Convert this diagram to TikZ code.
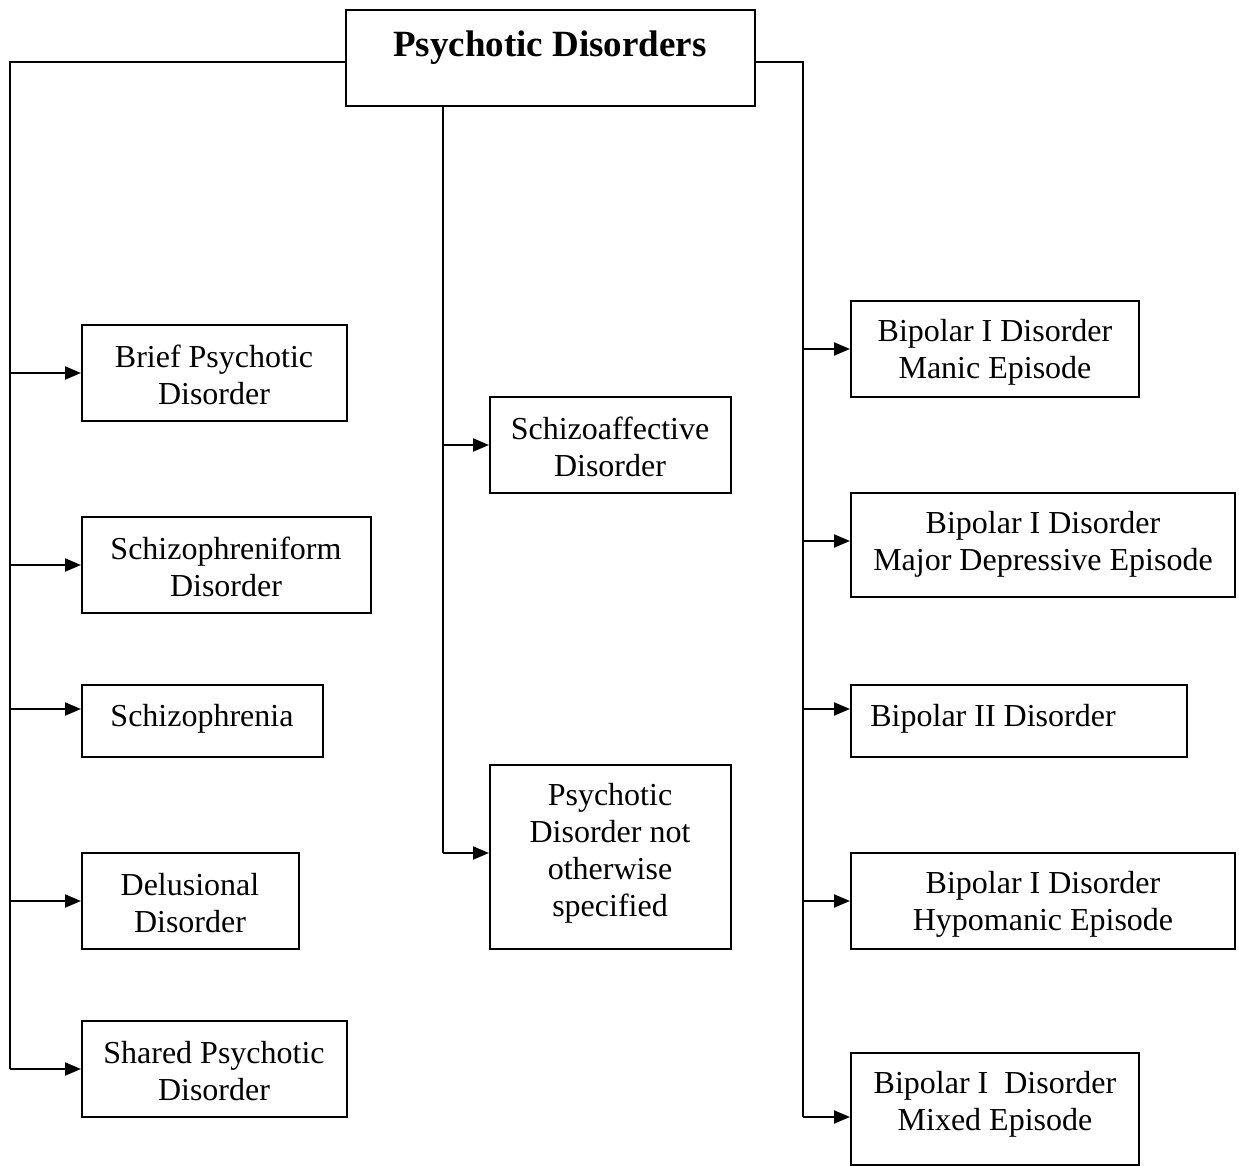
\documentclass[tikz,border=0pt]{standalone}
\usepackage{fontspec}
\setmainfont{Liberation Serif}
\usetikzlibrary{arrows.meta}
\begin{document}
\begin{tikzpicture}[x=1pt,y=-1pt,
  box/.style={draw,line width=2pt,rectangle,inner sep=0pt},
  lbl/.style={align=center,font=\fontsize{32}{37}\selectfont,inner sep=0pt},
  ttl/.style={align=center,font=\fontsize{37}{42}\selectfont\bfseries,inner sep=0pt},
  conn/.style={line width=2pt},
  arr/.style={line width=2pt,-{Triangle[length=16pt,width=13pt]}}]
\useasboundingbox (0,0) rectangle (1239,1166);
\fill[white] (0,0) rectangle (1239,1166);
% boxes
\node[box,minimum width=409pt,minimum height=96pt] (title) at (550.5,58) {};
\node[box,minimum width=265pt,minimum height=96pt] (brief) at (214.5,373) {};
\node[box,minimum width=289pt,minimum height=96pt] (schform) at (226.5,565) {};
\node[box,minimum width=241pt,minimum height=72pt] (schiz) at (202.5,721) {};
\node[box,minimum width=217pt,minimum height=96pt] (delus) at (190.5,901) {};
\node[box,minimum width=265pt,minimum height=96pt] (shared) at (214.5,1069) {};
\node[box,minimum width=241pt,minimum height=96pt] (schaff) at (610.5,445) {};
\node[box,minimum width=241pt,minimum height=184pt] (pdnos) at (610.5,857) {};
\node[box,minimum width=288pt,minimum height=96pt] (manic) at (995,349) {};
\node[box,minimum width=384pt,minimum height=104pt] (mde) at (1043,545) {};
\node[box,minimum width=336pt,minimum height=72pt] (bipii) at (1019,721) {};
\node[box,minimum width=384pt,minimum height=96pt] (hypo) at (1043,901) {};
\node[box,minimum width=288pt,minimum height=112pt] (mixed) at (995,1109) {};
% texts
\node[ttl] (ttitle) at (550,48) {Psychotic Disorders};
\node[lbl] (tbrief) at (214,375) {Brief Psychotic\\Disorder};
\node[lbl] (tschform) at (226,567) {Schizophreniform\\Disorder};
\node[lbl] (tschiz) at (202,719) {Schizophrenia};
\node[lbl] (tdelus) at (190,903) {Delusional\\Disorder};
\node[lbl] (tshared) at (214,1071) {Shared Psychotic\\Disorder};
\node[lbl] (tschaff) at (610,447) {Schizoaffective\\Disorder};
\node[lbl] (tpdnos) at (610,853) {Psychotic\\Disorder not\\otherwise\\specified};
\node[lbl] (tmanic) at (995,352) {Bipolar I Disorder\\Manic Episode};
\node[lbl] (tmde) at (1043,544) {Bipolar I Disorder\\Major Depressive Episode};
\node[lbl] (tbipii) at (993,719) {Bipolar II Disorder};
\node[lbl] (thypo) at (1043,904) {Bipolar I Disorder\\Hypomanic Episode};
\node[lbl] (tmixed) at (995,1104) {Bipolar I\ \ Disorder\\Mixed Episode};
% trunks
\coordinate (lt) at (10,1069);
\coordinate (mt) at (443,853);
\coordinate (rt) at (803,1117);
\draw[conn] ([yshift=-4pt]title.west) -| (lt);
\draw[conn] (title.south -| mt) -- (mt);
\draw[conn] ([yshift=-4pt]title.east) -| (rt);
% left arrows
\draw[arr] (brief.west -| lt) -- (brief.west);
\draw[arr] (schform.west -| lt) -- (schform.west);
\draw[arr] ([yshift=12pt]schiz.west -| lt) -- ([yshift=12pt]schiz.west);
\draw[arr] (delus.west -| lt) -- (delus.west);
\draw[arr] (shared.west -| lt) -- (shared.west);
% middle arrows
\draw[arr] (schaff.west -| mt) -- (schaff.west);
\draw[arr] ([yshift=4pt]pdnos.west -| mt) -- ([yshift=4pt]pdnos.west);
% right arrows
\draw[arr] (manic.west -| rt) -- (manic.west);
\draw[arr] ([yshift=4pt]mde.west -| rt) -- ([yshift=4pt]mde.west);
\draw[arr] ([yshift=12pt]bipii.west -| rt) -- ([yshift=12pt]bipii.west);
\draw[arr] (hypo.west -| rt) -- (hypo.west);
\draw[arr] ([yshift=-8pt]mixed.west -| rt) -- ([yshift=-8pt]mixed.west);
\end{tikzpicture}
\end{document}
